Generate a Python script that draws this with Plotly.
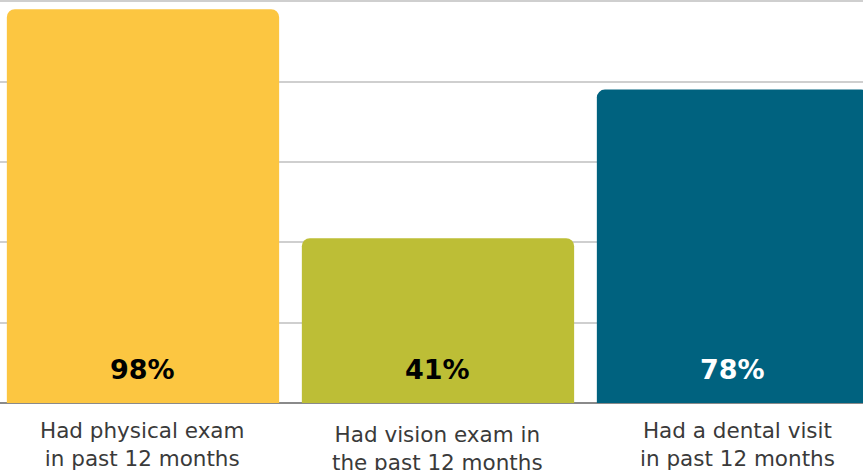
import plotly.graph_objects as go

categories = ["Had physical exam<br>in past 12 months",
              "Had vision exam in<br>the past 12 months",
              "Had a dental visit<br>in past 12 months"]
values = [98, 41, 78]
value_labels = ["98%", "41%", "78%"]
bar_colors = ["#FCC641", "#BDBE36", "#00627F"]
value_text_colors = ["#000000", "#000000", "#FFFFFF"]
label_shift = [0, -4, 0]

xs = list(range(len(categories)))

fig = go.Figure()
fig.add_trace(go.Bar(
    x=xs, y=values, marker=dict(color=bar_colors, line=dict(width=0)),
    width=0.923, hoverinfo="skip"
))

for i, (v, t, c) in enumerate(zip(values, value_labels, value_text_colors)):
    fig.add_annotation(x=xs[i], y=0, xref="x", yref="y", text="<b>" + t + "</b>",
                       showarrow=False, yanchor="bottom", yshift=16,
                       font=dict(family="DejaVu Sans, sans-serif", size=27, color=c))
    fig.add_annotation(x=xs[i] + (0.015 if i == 2 else 0), y=0, xref="x", yref="y", text=categories[i],
                       showarrow=False, yanchor="top", yshift=-13 + label_shift[i],
                       align="center",
                       font=dict(family="DejaVu Sans, sans-serif", size=21.5, color="#3a3a3a"))

fig.update_layout(
    width=863, height=470,
    margin=dict(l=0, r=0, t=0, b=67),
    paper_bgcolor="white", plot_bgcolor="white",
    barcornerradius=8,
    showlegend=False,
    xaxis=dict(range=[-0.4847, 2.4407], showticklabels=False, showgrid=False,
               zeroline=False, showline=False, ticks=""),
    yaxis=dict(range=[0, 100.3], dtick=20, showticklabels=False, showgrid=True,
               gridcolor="#cfcfcf", gridwidth=2, zeroline=True, zerolinecolor="#8a8a8a",
               zerolinewidth=1.5, showline=False, ticks=""),
)

fig.write_html("out.html", config={"displayModeBar": False},
               post_script="document.body.style.margin='0';document.body.style.overflow='hidden';")
